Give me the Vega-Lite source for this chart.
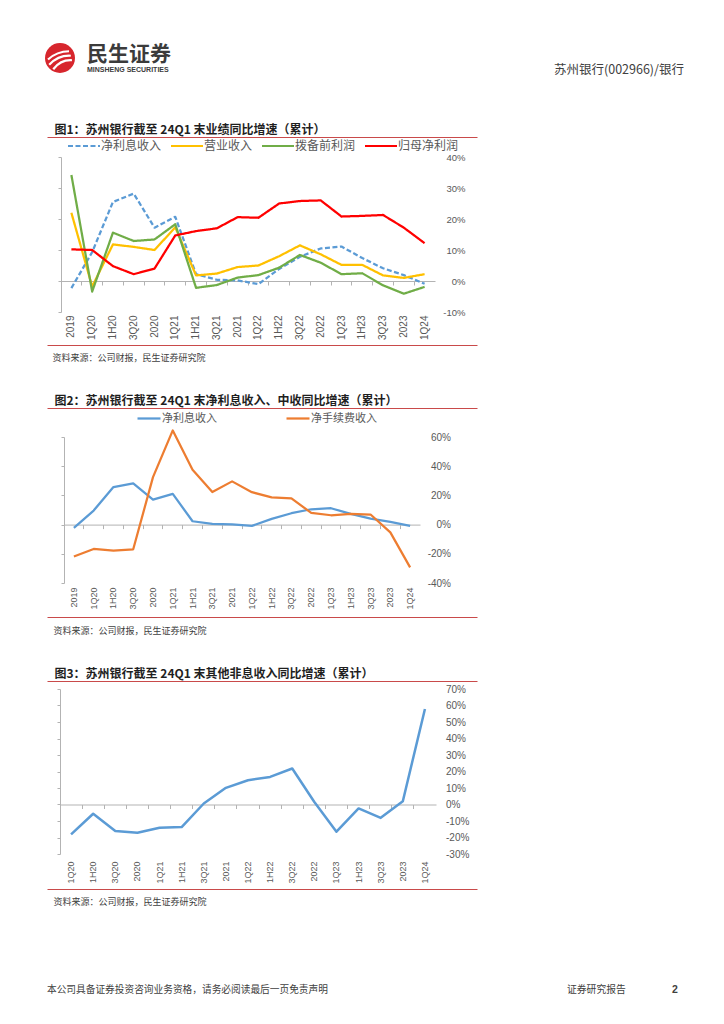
{
  "$schema": "https://vega.github.io/schema/vega-lite/v6.json",
  "background": "white",
  "padding": {"left": 43, "top": 40, "right": 0, "bottom": 0},
  "bounds": "flush",
  "spacing": 0,
  "resolve": {"scale": {"color": "independent", "strokeDash": "independent"}, "legend": {"color": "independent", "strokeDash": "independent"}},
  "config": {
    "view": {"stroke": null},
    "axis": {"grid": false},
    "font": "Noto Sans CJK SC"
  },
  "datasets": {
    "c1": [
      {"p": "2019", "s": "净利息收入", "v": -2.3}, {"p": "1Q20", "s": "净利息收入", "v": 9.3}, {"p": "1H20", "s": "净利息收入", "v": 25.5}, {"p": "3Q20", "s": "净利息收入", "v": 28.2}, {"p": "2020", "s": "净利息收入", "v": 17.2}, {"p": "1Q21", "s": "净利息收入", "v": 20.7}, {"p": "1H21", "s": "净利息收入", "v": 2.2}, {"p": "3Q21", "s": "净利息收入", "v": 0.4}, {"p": "2021", "s": "净利息收入", "v": 0.2}, {"p": "1Q22", "s": "净利息收入", "v": -1.0}, {"p": "1H22", "s": "净利息收入", "v": 3.9}, {"p": "3Q22", "s": "净利息收入", "v": 7.8}, {"p": "2022", "s": "净利息收入", "v": 10.5}, {"p": "1Q23", "s": "净利息收入", "v": 11.1}, {"p": "1H23", "s": "净利息收入", "v": 7.4}, {"p": "3Q23", "s": "净利息收入", "v": 4.1}, {"p": "2023", "s": "净利息收入", "v": 1.9}, {"p": "1Q24", "s": "净利息收入", "v": -0.9},
      {"p": "2019", "s": "营业收入", "v": 22.0}, {"p": "1Q20", "s": "营业收入", "v": -1.8}, {"p": "1H20", "s": "营业收入", "v": 11.8}, {"p": "3Q20", "s": "营业收入", "v": 11.0}, {"p": "2020", "s": "营业收入", "v": 10.0}, {"p": "1Q21", "s": "营业收入", "v": 17.3}, {"p": "1H21", "s": "营业收入", "v": 1.8}, {"p": "3Q21", "s": "营业收入", "v": 2.4}, {"p": "2021", "s": "营业收入", "v": 4.5}, {"p": "1Q22", "s": "营业收入", "v": 5.0}, {"p": "1H22", "s": "营业收入", "v": 8.0}, {"p": "3Q22", "s": "营业收入", "v": 11.5}, {"p": "2022", "s": "营业收入", "v": 8.6}, {"p": "1Q23", "s": "营业收入", "v": 5.2}, {"p": "1H23", "s": "营业收入", "v": 5.2}, {"p": "3Q23", "s": "营业收入", "v": 1.8}, {"p": "2023", "s": "营业收入", "v": 1.0}, {"p": "1Q24", "s": "营业收入", "v": 2.2},
      {"p": "2019", "s": "拨备前利润", "v": 34.2}, {"p": "1Q20", "s": "拨备前利润", "v": -3.4}, {"p": "1H20", "s": "拨备前利润", "v": 15.6}, {"p": "3Q20", "s": "拨备前利润", "v": 12.9}, {"p": "2020", "s": "拨备前利润", "v": 13.4}, {"p": "1Q21", "s": "拨备前利润", "v": 18.3}, {"p": "1H21", "s": "拨备前利润", "v": -2.2}, {"p": "3Q21", "s": "拨备前利润", "v": -1.3}, {"p": "2021", "s": "拨备前利润", "v": 1.1}, {"p": "1Q22", "s": "拨备前利润", "v": 1.9}, {"p": "1H22", "s": "拨备前利润", "v": 4.3}, {"p": "3Q22", "s": "拨备前利润", "v": 8.4}, {"p": "2022", "s": "拨备前利润", "v": 5.9}, {"p": "1Q23", "s": "拨备前利润", "v": 2.2}, {"p": "1H23", "s": "拨备前利润", "v": 2.5}, {"p": "3Q23", "s": "拨备前利润", "v": -1.4}, {"p": "2023", "s": "拨备前利润", "v": -4.1}, {"p": "1Q24", "s": "拨备前利润", "v": -1.9},
      {"p": "2019", "s": "归母净利润", "v": 10.2}, {"p": "1Q20", "s": "归母净利润", "v": 10.0}, {"p": "1H20", "s": "归母净利润", "v": 4.8}, {"p": "3Q20", "s": "归母净利润", "v": 2.2}, {"p": "2020", "s": "归母净利润", "v": 4.0}, {"p": "1Q21", "s": "归母净利润", "v": 14.7}, {"p": "1H21", "s": "归母净利润", "v": 16.1}, {"p": "3Q21", "s": "归母净利润", "v": 17.0}, {"p": "2021", "s": "归母净利润", "v": 20.6}, {"p": "1Q22", "s": "归母净利润", "v": 20.4}, {"p": "1H22", "s": "归母净利润", "v": 25.0}, {"p": "3Q22", "s": "归母净利润", "v": 25.8}, {"p": "2022", "s": "归母净利润", "v": 26.0}, {"p": "1Q23", "s": "归母净利润", "v": 20.8}, {"p": "1H23", "s": "归母净利润", "v": 21.0}, {"p": "3Q23", "s": "归母净利润", "v": 21.3}, {"p": "2023", "s": "归母净利润", "v": 17.2}, {"p": "1Q24", "s": "归母净利润", "v": 12.2}
    ],
    "c2": [
      {"p": "2019", "s": "净利息收入", "v": -2.3}, {"p": "1Q20", "s": "净利息收入", "v": 9.6}, {"p": "1H20", "s": "净利息收入", "v": 25.7}, {"p": "3Q20", "s": "净利息收入", "v": 28.3}, {"p": "2020", "s": "净利息收入", "v": 17.1}, {"p": "1Q21", "s": "净利息收入", "v": 21.0}, {"p": "1H21", "s": "净利息收入", "v": 2.3}, {"p": "3Q21", "s": "净利息收入", "v": 0.5}, {"p": "2021", "s": "净利息收入", "v": 0.2}, {"p": "1Q22", "s": "净利息收入", "v": -0.9}, {"p": "1H22", "s": "净利息收入", "v": 3.9}, {"p": "3Q22", "s": "净利息收入", "v": 7.8}, {"p": "2022", "s": "净利息收入", "v": 10.5}, {"p": "1Q23", "s": "净利息收入", "v": 11.2}, {"p": "1H23", "s": "净利息收入", "v": 7.3}, {"p": "3Q23", "s": "净利息收入", "v": 4.1}, {"p": "2023", "s": "净利息收入", "v": 1.8}, {"p": "1Q24", "s": "净利息收入", "v": -0.9},
      {"p": "2019", "s": "净手续费收入", "v": -21.9}, {"p": "1Q20", "s": "净手续费收入", "v": -16.7}, {"p": "1H20", "s": "净手续费收入", "v": -17.8}, {"p": "3Q20", "s": "净手续费收入", "v": -16.9}, {"p": "2020", "s": "净手续费收入", "v": 32.5}, {"p": "1Q21", "s": "净手续费收入", "v": 64.5}, {"p": "1H21", "s": "净手续费收入", "v": 37.5}, {"p": "3Q21", "s": "净手续费收入", "v": 22.3}, {"p": "2021", "s": "净手续费收入", "v": 29.6}, {"p": "1Q22", "s": "净手续费收入", "v": 22.2}, {"p": "1H22", "s": "净手续费收入", "v": 18.7}, {"p": "3Q22", "s": "净手续费收入", "v": 18.0}, {"p": "2022", "s": "净手续费收入", "v": 8.0}, {"p": "1Q23", "s": "净手续费收入", "v": 6.4}, {"p": "1H23", "s": "净手续费收入", "v": 7.3}, {"p": "3Q23", "s": "净手续费收入", "v": 6.9}, {"p": "2023", "s": "净手续费收入", "v": -5.3}, {"p": "1Q24", "s": "净手续费收入", "v": -29.3}
    ],
    "c3": [
      {"p": "1Q20", "v": -18.1}, {"p": "1H20", "v": -5.6}, {"p": "3Q20", "v": -16.1}, {"p": "2020", "v": -17.1}, {"p": "1Q21", "v": -14.1}, {"p": "1H21", "v": -13.7}, {"p": "3Q21", "v": 0.6}, {"p": "2021", "v": 10.1}, {"p": "1Q22", "v": 14.7}, {"p": "1H22", "v": 16.7}, {"p": "3Q22", "v": 21.8}, {"p": "2022", "v": 1.5}, {"p": "1Q23", "v": -16.5}, {"p": "1H23", "v": -2.4}, {"p": "3Q23", "v": -8.1}, {"p": "2023", "v": 2.0}, {"p": "1Q24", "v": 57.9}
    ]
  },
  "vconcat": [
    {
      "width": 637,
      "height": 117,
      "layer": [
        {
          "data": {"values": [{}]},
          "mark": {"type": "point", "shape": "circle", "filled": true, "color": "#d7262d", "opacity": 1, "size": 900},
          "encoding": {
            "x": {"datum": 13, "type": "quantitative", "scale": {"domain": [0, 637], "nice": false, "zero": false}, "axis": {"orient": "top", "offset": -43, "domain": true, "domainColor": "#595959", "domainWidth": 1.5, "ticks": false, "labels": false, "title": null}},
            "y": {"datum": 18, "type": "quantitative", "scale": {"domain": [0, 117], "reverse": true, "nice": false, "zero": false}, "axis": null}
          }
        },
        {
          "data": {"values": [{}]},
          "mark": {"type": "point", "shape": "M-0.8,0.1 Q-0.2,-0.45 0.6,-0.45 M-0.72,0.45 Q-0.1,-0.2 0.72,-0.15 M-0.45,0.75 Q0.05,0.1 0.8,0.15", "filled": false, "stroke": "white", "strokeWidth": 2.2, "opacity": 1, "size": 900},
          "encoding": {
            "x": {"datum": 13, "type": "quantitative", "axis": null},
            "y": {"datum": 18, "type": "quantitative", "axis": null}
          }
        },
        {
          "data": {"values": [{}]},
          "mark": {"type": "text", "text": "民生证券", "align": "left", "baseline": "middle", "font": "Noto Sans CJK SC", "fontSize": 21, "fontWeight": "bold", "color": "#3b3b3b"},
          "encoding": {
            "x": {"datum": 40, "type": "quantitative", "axis": null},
            "y": {"datum": 15, "type": "quantitative", "axis": null}
          }
        },
        {
          "data": {"values": [{}]},
          "mark": {"type": "text", "text": "MINSHENG SECURITIES", "align": "left", "baseline": "middle", "font": "Liberation Sans", "fontSize": 7, "fontWeight": "bold", "color": "#3b3b3b"},
          "encoding": {
            "x": {"datum": 40, "type": "quantitative", "axis": null},
            "y": {"datum": 29.5, "type": "quantitative", "axis": null}
          }
        },
        {
          "data": {"values": [{}]},
          "mark": {"type": "text", "text": "苏州银行(002966)/银行", "align": "right", "baseline": "middle", "font": "Noto Sans CJK SC", "fontSize": 12.5, "color": "#404040"},
          "encoding": {
            "x": {"datum": 637, "type": "quantitative", "axis": null},
            "y": {"datum": 29.5, "type": "quantitative", "axis": null}
          }
        }
      ]
    },
    {
      "width": 430,
      "height": 155,
      "data": {"name": "c1"},
      "resolve": {"scale": {"x": "independent"}, "axis": {"x": "independent", "y": "independent"}},
      "layer": [
        {
          "mark": {"type": "line", "strokeWidth": 2.25, "strokeJoin": "round"},
          "encoding": {
            "x": {"field": "p", "type": "ordinal", "sort": ["2019","1Q20","1H20","3Q20","2020","1Q21","1H21","3Q21","2021","1Q22","1H22","3Q22","2022","1Q23","1H23","3Q23","2023","1Q24"], "scale": {"type": "band", "range": [14, 388], "paddingInner": 0, "paddingOuter": 0}, "axis": {"orient": "bottom", "offset": 0, "grid": true, "gridOpacity": 0, "domain": false, "ticks": false, "tickSize": 0, "labelPadding": 3, "labelAngle": -90, "labelFont": "Liberation Sans", "labelFontSize": 10, "labelColor": "#595959", "labelOverlap": false, "title": null}},
            "y": {"field": "v", "type": "quantitative", "scale": {"domain": [-10, 40], "nice": false, "zero": false}, "axis": {"orient": "left", "offset": -14, "grid": true, "gridOpacity": 0, "values": [-10, 0, 10, 20, 30, 40], "labels": false, "domain": true, "domainColor": "#b3b3b3", "ticks": true, "tickSize": 3, "tickColor": "#b3b3b3", "title": null}},
            "color": {"field": "s", "type": "nominal", "scale": {"domain": ["净利息收入", "营业收入", "拨备前利润", "归母净利润"], "range": ["#5B9BD5", "#FFC000", "#70AD47", "#FF0000"]}, "legend": {"orient": "none", "legendX": 20, "legendY": -28, "direction": "horizontal", "gridAlign": "none", "title": null, "symbolType": "stroke", "symbolSize": 1024, "symbolStrokeWidth": 2, "labelFont": "Noto Sans CJK SC", "labelFontSize": 12, "labelColor": "#595959", "labelOffset": 0, "columnPadding": 5, "padding": 0}},
            "strokeDash": {"field": "s", "type": "nominal", "scale": {"domain": ["净利息收入", "营业收入", "拨备前利润", "归母净利润"], "range": [[5, 2.5], [1, 0], [1, 0], [1, 0]]}, "legend": {"orient": "none", "legendX": 20, "legendY": -28, "direction": "horizontal", "gridAlign": "none", "title": null, "symbolType": "stroke", "symbolSize": 1024, "symbolStrokeWidth": 2, "labelFont": "Noto Sans CJK SC", "labelFontSize": 12, "labelColor": "#595959", "labelOffset": 0, "columnPadding": 5, "padding": 0}}
          }
        },
        {
          "mark": {"type": "line", "strokeOpacity": 0},
          "encoding": {
            "x": {"field": "p", "type": "ordinal", "sort": ["2019","1Q20","1H20","3Q20","2020","1Q21","1H21","3Q21","2021","1Q22","1H22","3Q22","2022","1Q23","1H23","3Q23","2023","1Q24"], "scale": {"type": "band", "range": [14, 388], "paddingInner": 0, "paddingOuter": 0}, "axis": {"orient": "bottom", "offset": -31, "grid": true, "gridOpacity": 0, "labels": false, "domain": true, "domainColor": "#b3b3b3", "ticks": true, "tickSize": 4, "tickColor": "#b3b3b3", "bandPosition": 0, "title": null}},
            "y": {"field": "v", "type": "quantitative", "scale": {"domain": [-10, 40], "nice": false, "zero": false}, "axis": {"orient": "right", "offset": -42, "grid": true, "gridOpacity": 0, "values": [-10, 0, 10, 20, 30, 40], "domain": false, "ticks": false, "tickSize": 0, "labelAlign": "right", "labelPadding": 30, "labelExpr": "datum.value + '%'", "labelFont": "Liberation Sans", "labelFontSize": 9.5, "labelColor": "#595959", "labelOverlap": false, "title": null}}
          }
        },
        {
          "data": {"values": [{}]},
          "mark": {"type": "point", "opacity": 0},
          "encoding": {
            "x": {"datum": 0, "type": "quantitative", "scale": {"domain": [0, 1], "nice": false, "zero": false}, "axis": {"orient": "top", "offset": 20, "grid": true, "gridOpacity": 0, "domain": true, "domainColor": "#c94a4a", "domainWidth": 1, "ticks": false, "labels": false, "title": "图1：苏州银行截至 24Q1 末业绩同比增速（累计）", "titleX": 7, "titleY": -4, "titleAlign": "left", "titleBaseline": "alphabetic", "titleFont": "Noto Sans CJK SC", "titleFontSize": 12, "titleFontWeight": "bold", "titleColor": "#1f1f1f"}},
            "y": {"datum": 0, "type": "quantitative", "axis": null}
          }
        },
        {
          "data": {"values": [{}]},
          "mark": {"type": "point", "opacity": 0},
          "encoding": {
            "x": {"datum": 0, "type": "quantitative", "scale": {"domain": [0, 1], "nice": false, "zero": false}, "axis": {"orient": "bottom", "offset": 33, "grid": true, "gridOpacity": 0, "domain": true, "domainColor": "#c94a4a", "domainWidth": 1, "ticks": false, "labels": false, "title": "资料来源：公司财报，民生证券研究院", "titleX": 5, "titleY": 15.5, "titleAlign": "left", "titleBaseline": "alphabetic", "titleFont": "Noto Sans CJK SC", "titleFontSize": 9, "titleFontWeight": "normal", "titleColor": "#404040"}},
            "y": {"datum": 0, "type": "quantitative", "axis": null}
          }
        }
      ]
    },
    {
      "width": 10,
      "height": 125,
      "data": {"values": [{}]},
      "mark": {"type": "point", "opacity": 0}
    },
    {
      "width": 430,
      "height": 146,
      "data": {"name": "c2"},
      "resolve": {"scale": {"x": "independent"}, "axis": {"x": "independent", "y": "independent"}},
      "layer": [
        {
          "mark": {"type": "line", "strokeWidth": 2.25, "strokeJoin": "round"},
          "encoding": {
            "x": {"field": "p", "type": "ordinal", "sort": ["2019","1Q20","1H20","3Q20","2020","1Q21","1H21","3Q21","2021","1Q22","1H22","3Q22","2022","1Q23","1H23","3Q23","2023","1Q24"], "scale": {"type": "band", "range": [17, 373], "paddingInner": 0, "paddingOuter": 0}, "axis": {"orient": "bottom", "offset": 0, "grid": true, "gridOpacity": 0, "domain": false, "ticks": false, "tickSize": 0, "labelPadding": 4, "labelAngle": -90, "labelFont": "Liberation Sans", "labelFontSize": 9, "labelColor": "#595959", "labelOverlap": false, "title": null}},
            "y": {"field": "v", "type": "quantitative", "scale": {"domain": [-40, 60], "nice": false, "zero": false}, "axis": {"orient": "left", "offset": -17, "grid": true, "gridOpacity": 0, "values": [-40, -20, 0, 20, 40, 60], "labels": false, "domain": true, "domainColor": "#b3b3b3", "ticks": true, "tickSize": 3, "tickColor": "#b3b3b3", "title": null}},
            "color": {"field": "s", "type": "nominal", "scale": {"domain": ["净利息收入", "净手续费收入"], "range": ["#5B9BD5", "#ED7D31"]}, "legend": {"orient": "none", "legendX": 89, "legendY": -31.5, "direction": "horizontal", "gridAlign": "none", "title": null, "symbolType": "stroke", "symbolSize": 529, "symbolStrokeWidth": 2.25, "labelFont": "Noto Sans CJK SC", "labelFontSize": 11, "labelColor": "#595959", "labelOffset": 0, "columnPadding": 65, "padding": 0}}
          }
        },
        {
          "mark": {"type": "line", "strokeOpacity": 0},
          "encoding": {
            "x": {"field": "p", "type": "ordinal", "sort": ["2019","1Q20","1H20","3Q20","2020","1Q21","1H21","3Q21","2021","1Q22","1H22","3Q22","2022","1Q23","1H23","3Q23","2023","1Q24"], "scale": {"type": "band", "range": [17, 373], "paddingInner": 0, "paddingOuter": 0}, "axis": {"orient": "bottom", "offset": -58.4, "grid": true, "gridOpacity": 0, "labels": false, "domain": true, "domainColor": "#b3b3b3", "ticks": true, "tickSize": 4, "tickColor": "#b3b3b3", "bandPosition": 0, "title": null}},
            "y": {"field": "v", "type": "quantitative", "scale": {"domain": [-40, 60], "nice": false, "zero": false}, "axis": {"orient": "right", "offset": -57, "grid": true, "gridOpacity": 0, "values": [-40, -20, 0, 20, 40, 60], "domain": false, "ticks": false, "tickSize": 0, "labelAlign": "right", "labelPadding": 30.5, "labelExpr": "datum.value + '%'", "labelFont": "Liberation Sans", "labelFontSize": 10, "labelColor": "#595959", "labelOverlap": false, "title": null}}
          }
        },
        {
          "data": {"values": [{}]},
          "mark": {"type": "point", "opacity": 0},
          "encoding": {
            "x": {"datum": 0, "type": "quantitative", "scale": {"domain": [0, 1], "nice": false, "zero": false}, "axis": {"orient": "top", "offset": 29, "grid": true, "gridOpacity": 0, "domain": true, "domainColor": "#c94a4a", "domainWidth": 1, "ticks": false, "labels": false, "title": "图2：苏州银行截至 24Q1 末净利息收入、中收同比增速（累计）", "titleX": 7, "titleY": -4, "titleAlign": "left", "titleBaseline": "alphabetic", "titleFont": "Noto Sans CJK SC", "titleFontSize": 12, "titleFontWeight": "bold", "titleColor": "#1f1f1f"}},
            "y": {"datum": 0, "type": "quantitative", "axis": null}
          }
        },
        {
          "data": {"values": [{}]},
          "mark": {"type": "point", "opacity": 0},
          "encoding": {
            "x": {"datum": 0, "type": "quantitative", "scale": {"domain": [0, 1], "nice": false, "zero": false}, "axis": {"orient": "bottom", "offset": 34, "grid": true, "gridOpacity": 0, "domain": true, "domainColor": "#c94a4a", "domainWidth": 1, "ticks": false, "labels": false, "title": "资料来源：公司财报，民生证券研究院", "titleX": 6, "titleY": 16.5, "titleAlign": "left", "titleBaseline": "alphabetic", "titleFont": "Noto Sans CJK SC", "titleFontSize": 9, "titleFontWeight": "normal", "titleColor": "#404040"}},
            "y": {"datum": 0, "type": "quantitative", "axis": null}
          }
        }
      ]
    },
    {
      "width": 10,
      "height": 106,
      "data": {"values": [{}]},
      "mark": {"type": "point", "opacity": 0}
    },
    {
      "width": 430,
      "height": 165,
      "data": {"name": "c3"},
      "resolve": {"scale": {"x": "independent"}, "axis": {"x": "independent", "y": "independent"}},
      "layer": [
        {
          "mark": {"type": "line", "strokeWidth": 2.5, "strokeJoin": "round", "color": "#5B9BD5"},
          "encoding": {
            "x": {"field": "p", "type": "ordinal", "sort": ["1Q20","1H20","3Q20","2020","1Q21","1H21","3Q21","2021","1Q22","1H22","3Q22","2022","1Q23","1H23","3Q23","2023","1Q24"], "scale": {"type": "band", "range": [13, 389], "paddingInner": 0, "paddingOuter": 0}, "axis": {"orient": "bottom", "offset": 0, "grid": true, "gridOpacity": 0, "domain": false, "ticks": false, "tickSize": 0, "labelPadding": 7, "labelAngle": -90, "labelFont": "Liberation Sans", "labelFontSize": 9, "labelColor": "#595959", "labelOverlap": false, "title": null}},
            "y": {"field": "v", "type": "quantitative", "scale": {"domain": [-30, 70], "nice": false, "zero": false}, "axis": {"orient": "left", "offset": -13, "grid": true, "gridOpacity": 0, "values": [-30, -20, -10, 0, 10, 20, 30, 40, 50, 60, 70], "labels": false, "domain": true, "domainColor": "#b3b3b3", "ticks": true, "tickSize": 3, "tickColor": "#b3b3b3", "title": null}}
          }
        },
        {
          "mark": {"type": "line", "strokeOpacity": 0},
          "encoding": {
            "x": {"field": "p", "type": "ordinal", "sort": ["1Q20","1H20","3Q20","2020","1Q21","1H21","3Q21","2021","1Q22","1H22","3Q22","2022","1Q23","1H23","3Q23","2023","1Q24"], "scale": {"type": "band", "range": [13, 389], "paddingInner": 0, "paddingOuter": 0}, "axis": {"orient": "bottom", "offset": -49.5, "grid": true, "gridOpacity": 0, "labels": false, "domain": true, "domainColor": "#b3b3b3", "ticks": true, "tickSize": 4, "tickColor": "#b3b3b3", "bandPosition": 0, "title": null}},
            "y": {"field": "v", "type": "quantitative", "scale": {"domain": [-30, 70], "nice": false, "zero": false}, "axis": {"orient": "right", "offset": -41, "grid": true, "gridOpacity": 0, "values": [-30, -20, -10, 0, 10, 20, 30, 40, 50, 60, 70], "domain": false, "ticks": false, "tickSize": 0, "labelAlign": "left", "labelPadding": 9.5, "labelExpr": "datum.value + '%'", "labelFont": "Liberation Sans", "labelFontSize": 10, "labelColor": "#595959", "labelOverlap": false, "title": null}}
          }
        },
        {
          "data": {"values": [{}]},
          "mark": {"type": "point", "opacity": 0},
          "encoding": {
            "x": {"datum": 0, "type": "quantitative", "scale": {"domain": [0, 1], "nice": false, "zero": false}, "axis": {"orient": "top", "offset": 8, "grid": true, "gridOpacity": 0, "domain": true, "domainColor": "#c94a4a", "domainWidth": 1, "ticks": false, "labels": false, "title": "图3：苏州银行截至 24Q1 末其他非息收入同比增速（累计）", "titleX": 7, "titleY": -4, "titleAlign": "left", "titleBaseline": "alphabetic", "titleFont": "Noto Sans CJK SC", "titleFontSize": 12, "titleFontWeight": "bold", "titleColor": "#1f1f1f"}},
            "y": {"datum": 0, "type": "quantitative", "axis": null}
          }
        },
        {
          "data": {"values": [{}]},
          "mark": {"type": "point", "opacity": 0},
          "encoding": {
            "x": {"datum": 0, "type": "quantitative", "scale": {"domain": [0, 1], "nice": false, "zero": false}, "axis": {"orient": "bottom", "offset": 35, "grid": true, "gridOpacity": 0, "domain": true, "domainColor": "#c94a4a", "domainWidth": 1, "ticks": false, "labels": false, "title": "资料来源：公司财报，民生证券研究院", "titleX": 6, "titleY": 15.5, "titleAlign": "left", "titleBaseline": "alphabetic", "titleFont": "Noto Sans CJK SC", "titleFontSize": 9, "titleFontWeight": "normal", "titleColor": "#404040"}},
            "y": {"datum": 0, "type": "quantitative", "axis": null}
          }
        }
      ]
    },
    {
      "width": 10,
      "height": 119,
      "data": {"values": [{}]},
      "mark": {"type": "point", "opacity": 0}
    },
    {
      "width": 637,
      "height": 51,
      "layer": [
        {
          "data": {"values": [{}]},
          "mark": {"type": "text", "text": "本公司具备证券投资咨询业务资格，请务必阅读最后一页免责声明", "align": "left", "baseline": "middle", "font": "Noto Sans CJK SC", "fontSize": 9.7, "color": "#404040"},
          "encoding": {
            "x": {"datum": 0, "type": "quantitative", "scale": {"domain": [0, 637], "nice": false, "zero": false}, "axis": {"orient": "top", "offset": 0, "domain": true, "domainColor": "#808080", "domainWidth": 1.5, "ticks": false, "labels": false, "title": null}},
            "y": {"datum": 17, "type": "quantitative", "scale": {"domain": [0, 51], "reverse": true, "nice": false, "zero": false}, "axis": null}
          }
        },
        {
          "data": {"values": [{}]},
          "mark": {"type": "text", "text": "证券研究报告", "align": "left", "baseline": "middle", "font": "Noto Sans CJK SC", "fontSize": 9.8, "color": "#404040"},
          "encoding": {
            "x": {"datum": 520, "type": "quantitative", "axis": null},
            "y": {"datum": 17, "type": "quantitative", "axis": null}
          }
        },
        {
          "data": {"values": [{}]},
          "mark": {"type": "text", "text": "2", "align": "left", "baseline": "middle", "font": "Liberation Sans", "fontSize": 10.5, "fontWeight": "bold", "color": "#404040"},
          "encoding": {
            "x": {"datum": 625, "type": "quantitative", "axis": null},
            "y": {"datum": 17, "type": "quantitative", "axis": null}
          }
        }
      ]
    }
  ]
}
